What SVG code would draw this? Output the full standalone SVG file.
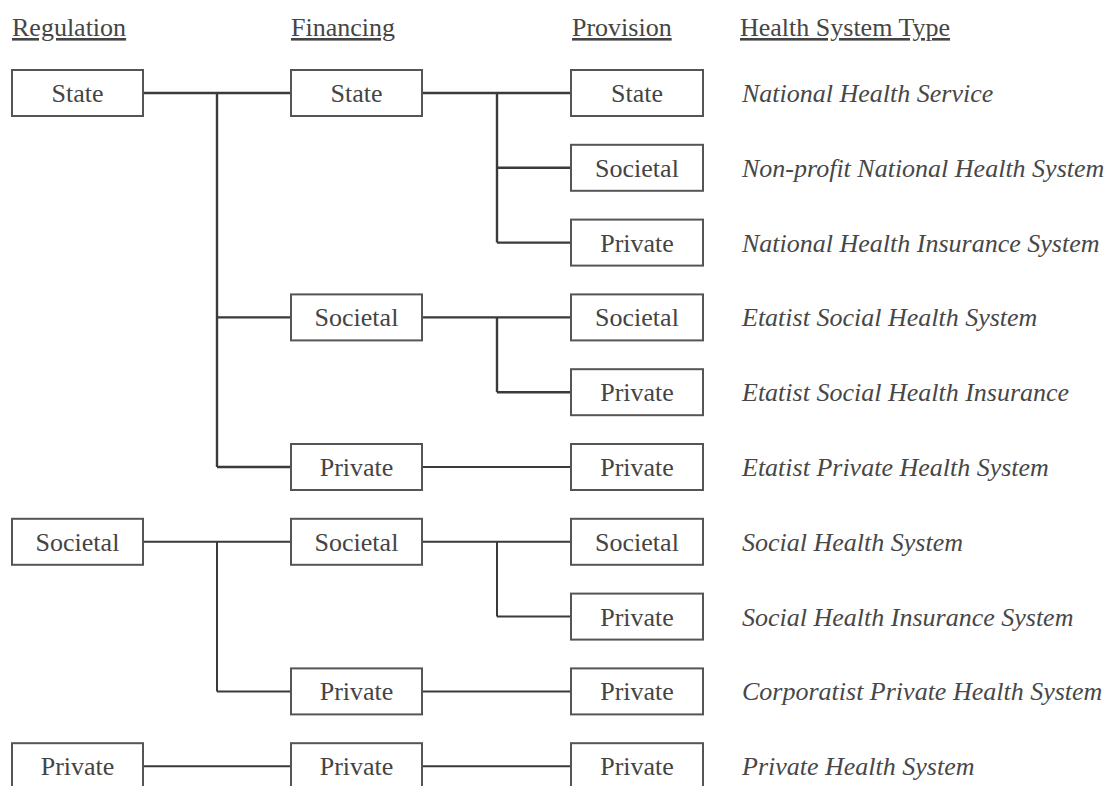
<svg xmlns="http://www.w3.org/2000/svg" width="1111" height="786" viewBox="0 0 1111 786">
  <rect width="1111" height="786" fill="#ffffff"/>

  <!-- column headers -->
  <g id="headers" fill="#454545" text-decoration="underline">
    <text x="12" y="36" font-family="Liberation Serif" font-size="26">Regulation</text>
    <text x="291" y="36" font-family="Liberation Serif" font-size="26">Financing</text>
    <text x="572" y="36" font-family="Liberation Serif" font-size="26">Provision</text>
    <text x="740" y="36" font-family="Liberation Serif" font-size="26">Health System Type</text>
  </g>

  <!-- connectors: rows centred at 93 + 74.8*i -->
  <g id="connectors" fill="none" stroke="#3a3a3a" stroke-width="2">
    <!-- regulation -> financing -->
    <path d="M143 93 H291 M217 93 V467 M217 317.4 H291 M217 467 H291" stroke-width="2.4"/>
    <path d="M143 541.8 H291 M217 541.8 V691.4 M217 691.4 H291"/>
    <path d="M143 766.2 H291"/>
    <!-- financing -> provision -->
    <path d="M422 93 H571 M497 93 V242.6 M497 167.8 H571 M497 242.6 H571" stroke-width="2.4"/>
    <path d="M422 317.4 H571 M497 317.4 V392.2 M497 392.2 H571" stroke-width="2.4"/>
    <path d="M422 467 H571"/>
    <path d="M422 541.8 H571 M497 541.8 V616.6 M497 616.6 H571"/>
    <path d="M422 691.4 H571"/>
    <path d="M422 766.2 H571"/>
  </g>

  <!-- boxes: white fill, grey outline, centred grey label -->
  <g id="nodes" text-anchor="middle" fill="#444">
    <g id="reg-state"><rect x="12" y="70" width="131" height="46" fill="#fff" stroke="#555" stroke-width="2"/><text x="77.5" y="102" font-family="Liberation Serif" font-size="26">State</text></g>
    <g id="reg-societal"><rect x="12" y="518.8" width="131" height="46" fill="#fff" stroke="#555" stroke-width="2"/><text x="77.5" y="550.8" font-family="Liberation Serif" font-size="26">Societal</text></g>
    <g id="reg-private"><rect x="12" y="743.2" width="131" height="46" fill="#fff" stroke="#555" stroke-width="2"/><text x="77.5" y="775.2" font-family="Liberation Serif" font-size="26">Private</text></g>

    <g id="fin-state"><rect x="291" y="70" width="131" height="46" fill="#fff" stroke="#555" stroke-width="2"/><text x="356.5" y="102" font-family="Liberation Serif" font-size="26">State</text></g>
    <g id="fin-societal-1"><rect x="291" y="294.4" width="131" height="46" fill="#fff" stroke="#555" stroke-width="2"/><text x="356.5" y="326.4" font-family="Liberation Serif" font-size="26">Societal</text></g>
    <g id="fin-private-1"><rect x="291" y="444" width="131" height="46" fill="#fff" stroke="#555" stroke-width="2"/><text x="356.5" y="476" font-family="Liberation Serif" font-size="26">Private</text></g>
    <g id="fin-societal-2"><rect x="291" y="518.8" width="131" height="46" fill="#fff" stroke="#555" stroke-width="2"/><text x="356.5" y="550.8" font-family="Liberation Serif" font-size="26">Societal</text></g>
    <g id="fin-private-2"><rect x="291" y="668.4" width="131" height="46" fill="#fff" stroke="#555" stroke-width="2"/><text x="356.5" y="700.4" font-family="Liberation Serif" font-size="26">Private</text></g>
    <g id="fin-private-3"><rect x="291" y="743.2" width="131" height="46" fill="#fff" stroke="#555" stroke-width="2"/><text x="356.5" y="775.2" font-family="Liberation Serif" font-size="26">Private</text></g>

    <g id="prov-1"><rect x="571" y="70" width="132" height="46" fill="#fff" stroke="#555" stroke-width="2"/><text x="637" y="102" font-family="Liberation Serif" font-size="26">State</text></g>
    <g id="prov-2"><rect x="571" y="144.8" width="132" height="46" fill="#fff" stroke="#555" stroke-width="2"/><text x="637" y="176.8" font-family="Liberation Serif" font-size="26">Societal</text></g>
    <g id="prov-3"><rect x="571" y="219.6" width="132" height="46" fill="#fff" stroke="#555" stroke-width="2"/><text x="637" y="251.6" font-family="Liberation Serif" font-size="26">Private</text></g>
    <g id="prov-4"><rect x="571" y="294.4" width="132" height="46" fill="#fff" stroke="#555" stroke-width="2"/><text x="637" y="326.4" font-family="Liberation Serif" font-size="26">Societal</text></g>
    <g id="prov-5"><rect x="571" y="369.2" width="132" height="46" fill="#fff" stroke="#555" stroke-width="2"/><text x="637" y="401.2" font-family="Liberation Serif" font-size="26">Private</text></g>
    <g id="prov-6"><rect x="571" y="444" width="132" height="46" fill="#fff" stroke="#555" stroke-width="2"/><text x="637" y="476" font-family="Liberation Serif" font-size="26">Private</text></g>
    <g id="prov-7"><rect x="571" y="518.8" width="132" height="46" fill="#fff" stroke="#555" stroke-width="2"/><text x="637" y="550.8" font-family="Liberation Serif" font-size="26">Societal</text></g>
    <g id="prov-8"><rect x="571" y="593.6" width="132" height="46" fill="#fff" stroke="#555" stroke-width="2"/><text x="637" y="625.6" font-family="Liberation Serif" font-size="26">Private</text></g>
    <g id="prov-9"><rect x="571" y="668.4" width="132" height="46" fill="#fff" stroke="#555" stroke-width="2"/><text x="637" y="700.4" font-family="Liberation Serif" font-size="26">Private</text></g>
    <g id="prov-10"><rect x="571" y="743.2" width="132" height="46" fill="#fff" stroke="#555" stroke-width="2"/><text x="637" y="775.2" font-family="Liberation Serif" font-size="26">Private</text></g>
  </g>

  <!-- resulting health system types -->
  <g id="types" font-style="italic" fill="#474747">
    <text x="742" y="102" font-family="Liberation Serif" font-size="26">National Health Service</text>
    <text x="742" y="176.8" font-family="Liberation Serif" font-size="26">Non-profit National Health System</text>
    <text x="742" y="251.6" font-family="Liberation Serif" font-size="26">National Health Insurance System</text>
    <text x="742" y="326.4" font-family="Liberation Serif" font-size="26">Etatist Social Health System</text>
    <text x="742" y="401.2" font-family="Liberation Serif" font-size="26">Etatist Social Health Insurance</text>
    <text x="742" y="476" font-family="Liberation Serif" font-size="26">Etatist Private Health System</text>
    <text x="742" y="550.8" font-family="Liberation Serif" font-size="26">Social Health System</text>
    <text x="742" y="625.6" font-family="Liberation Serif" font-size="26">Social Health Insurance System</text>
    <text x="742" y="700.4" font-family="Liberation Serif" font-size="26">Corporatist Private Health System</text>
    <text x="742" y="775.2" font-family="Liberation Serif" font-size="26">Private Health System</text>
  </g>
</svg>
